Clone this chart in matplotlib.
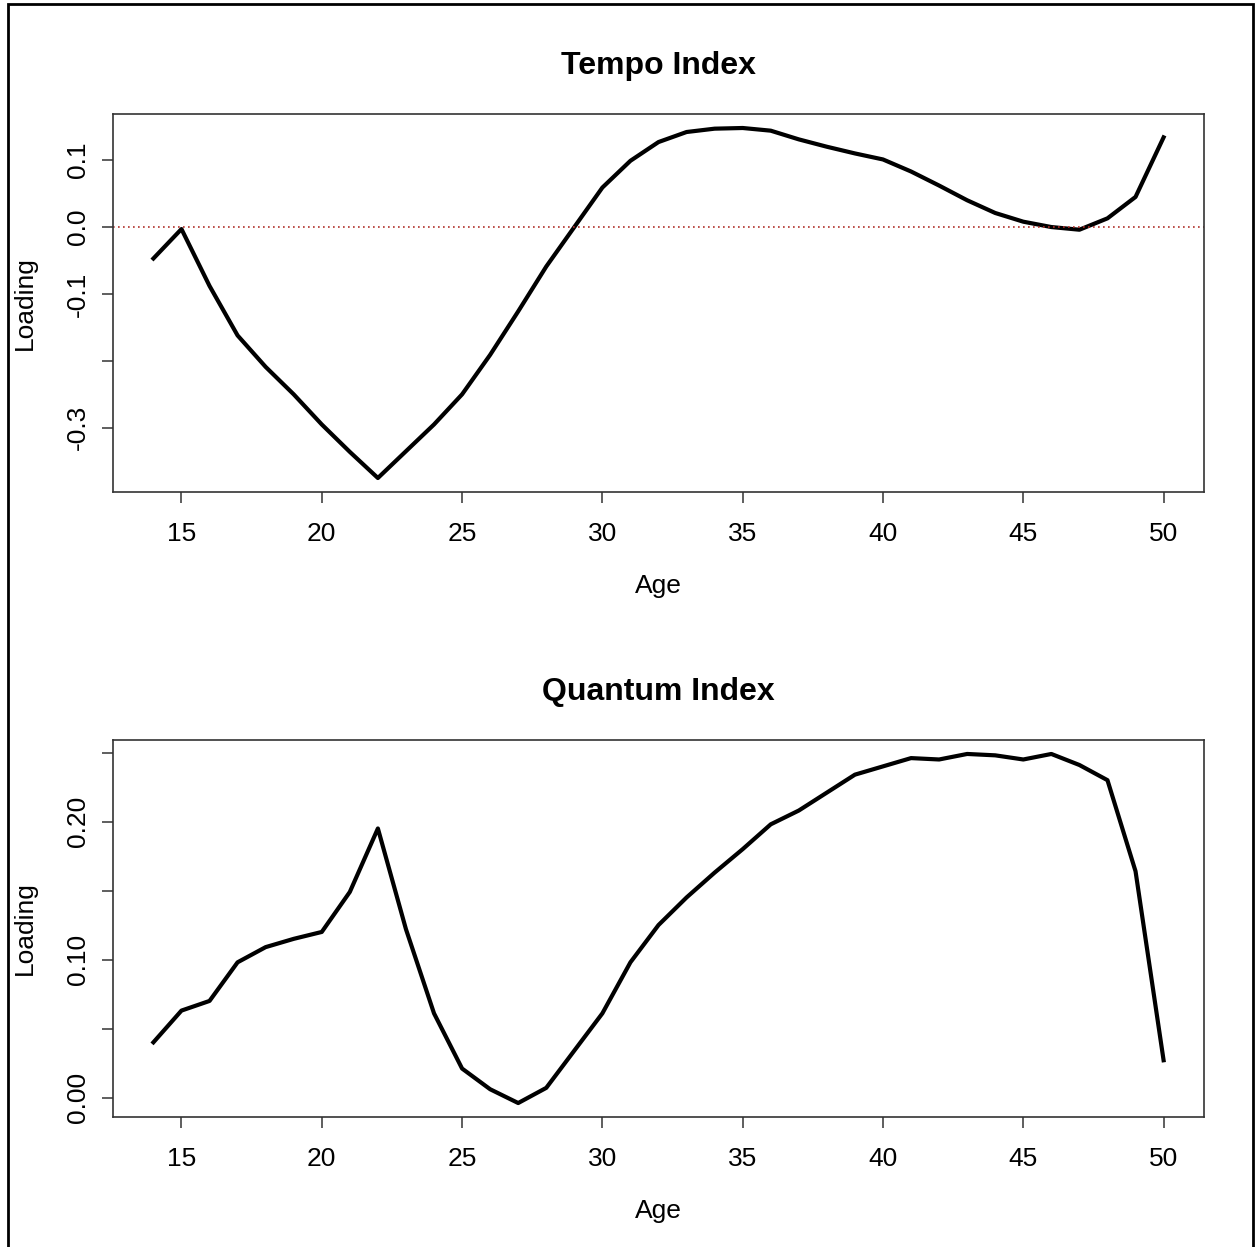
import matplotlib.pyplot as plt
from matplotlib.patches import Rectangle

plt.rcParams['font.family'] = ['Liberation Sans', 'DejaVu Sans']

ages = list(range(14, 51))

tempo = [-0.047, -0.003, -0.088, -0.162, -0.209, -0.250, -0.295, -0.336, -0.375,
         -0.335, -0.295, -0.250, -0.191, -0.126, -0.059, 0.000, 0.059, 0.099,
         0.127, 0.142, 0.147, 0.148, 0.144, 0.131, 0.120, 0.110, 0.101, 0.083,
         0.062, 0.040, 0.021, 0.008, 0.000, -0.004, 0.013, 0.045, 0.134]

quantum = [0.040, 0.063, 0.070, 0.098, 0.109, 0.115, 0.120, 0.149, 0.195,
           0.122, 0.061, 0.021, 0.006, -0.004, 0.007, 0.034, 0.061, 0.098,
           0.125, 0.145, 0.163, 0.180, 0.198, 0.208, 0.221, 0.234, 0.240,
           0.246, 0.245, 0.249, 0.248, 0.245, 0.249, 0.241, 0.230, 0.164, 0.027]

x_ticks = [15, 20, 25, 30, 35, 40, 45, 50]
tempo_ticks = [-0.3, -0.2, -0.1, 0.0, 0.1]
tempo_labels = ['-0.3', '', '-0.1', '0.0', '0.1']
quantum_ticks = [0.0, 0.05, 0.10, 0.15, 0.20, 0.25]
quantum_labels = ['0.00', '', '0.10', '', '0.20', '']

fig = plt.figure(figsize=(12.59, 12.47), dpi=100)

# outer frame
fig.patches.append(Rectangle((8 / 1259, -0.02), 1245 / 1259, 1.02 - 4 / 1247,
                             transform=fig.transFigure, fill=False,
                             edgecolor='black', linewidth=2))


def panel(rect, y, title, yticks, ylabels, zero_line):
    ax = fig.add_axes(rect)
    ax.plot(ages, y, color='black', linewidth=3)
    if zero_line:
        ax.axhline(0, color='#b0302a', linestyle=(0, (1, 2)), linewidth=1.2)
    lo, hi = min(y), max(y)
    pad = 0.04 * (hi - lo)
    ax.set_ylim(lo - pad, hi + pad)
    xpad = 0.04 * (ages[-1] - ages[0])
    ax.set_xlim(ages[0] - xpad, ages[-1] + xpad)
    ax.set_xticks(x_ticks)
    ax.set_yticks(yticks)
    ax.set_yticklabels(ylabels, rotation=90, va='center')
    ax.tick_params(axis='both', direction='out', length=8, width=1.1,
                   color='#333333', labelsize=19)
    ax.tick_params(axis='x', pad=13.5)
    ax.tick_params(axis='y', pad=8.5)
    for s in ax.spines.values():
        s.set_color('#333333')
        s.set_linewidth(1.2)
    ax.set_xlabel('Age', fontsize=19, labelpad=20)
    ax.set_ylabel('Loading', fontsize=19, labelpad=21)
    ax.set_title(title, fontsize=23, fontweight='bold', pad=29)
    return ax


panel([113 / 1259, 1 - 492 / 1247, 1091 / 1259, 378 / 1247], tempo,
      'Tempo Index', tempo_ticks, tempo_labels, True)
panel([113 / 1259, 1 - 1117 / 1247, 1091 / 1259, 377 / 1247], quantum,
      'Quantum Index', quantum_ticks, quantum_labels, False)

fig.savefig('out.png', dpi=100)
